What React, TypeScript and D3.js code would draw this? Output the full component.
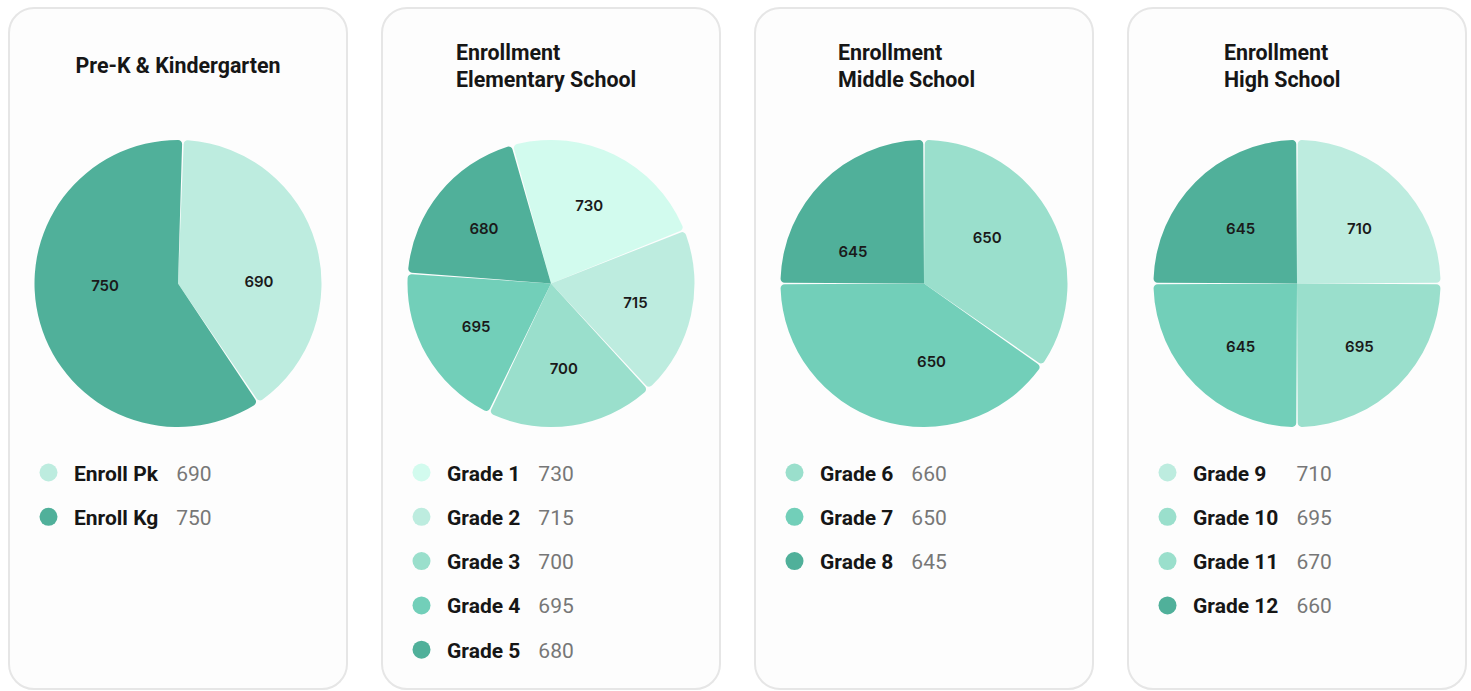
import React, { useEffect, useRef } from "react";
import * as d3 from "d3";

// ---------- data ----------
const preKTitle = ["Pre-K & Kindergarten"];
const preKNames = ["Enroll Pk", "Enroll Kg"];
const preKValues = [690, 750];
const preKPieLabels = [690, 750];
const preKShares = [40, 60];

const elemTitle = ["Enrollment", "Elementary School"];
const elemNames = ["Grade 1", "Grade 2", "Grade 3", "Grade 4", "Grade 5"];
const elemValues = [730, 715, 700, 695, 680];
const elemPieLabels = [730, 715, 700, 695, 680];
const elemShares = [23.3, 19.2, 19.0, 19.0, 19.5];

const midTitle = ["Enrollment", "Middle School"];
const midNames = ["Grade 6", "Grade 7", "Grade 8"];
const midValues = [660, 650, 645];
const midPieLabels = [650, 650, 645];
const midShares = [34.7, 40.3, 25];

const highTitle = ["Enrollment", "High School"];
const highNames = ["Grade 9", "Grade 10", "Grade 11", "Grade 12"];
const highValues = [710, 695, 670, 660];
const highPieLabels = [710, 695, 645, 645];
const highShares = [25, 25, 25, 25];

// ---------- styles ----------
const C = {
  lightest: "#d2fbee",
  light: "#bdecdf",
  mid: "#9adfcc",
  medium: "#72cfb9",
  dark: "#50b09a",
};

type Chart = {
  title: string[];
  names: string[];
  values: number[];
  pieLabels: number[];
  shares: number[];
  sliceColors: string[];
  legendColors: string[];
  startDeg: number;
  titleX: number | null;
  labelFrom: "values" | "slices";
  labelStartDeg: number;
  labelR: number;
  labelDx: number;
  labelDy: number;
};

const charts: Chart[] = [
  {
    title: preKTitle, names: preKNames, values: preKValues, pieLabels: preKPieLabels, shares: preKShares,
    sliceColors: [C.light, C.dark], legendColors: [C.light, C.dark],
    startDeg: 2, titleX: null, labelFrom: "values", labelStartDeg: 2, labelR: 77, labelDx: 4, labelDy: 0,
  },
  {
    title: elemTitle, names: elemNames, values: elemValues, pieLabels: elemPieLabels, shares: elemShares,
    sliceColors: [C.lightest, C.light, C.mid, C.medium, C.dark],
    legendColors: [C.lightest, C.light, C.mid, C.medium, C.dark],
    startDeg: -15.7, titleX: 74, labelFrom: "slices", labelStartDeg: 0, labelR: 86.5, labelDx: 0, labelDy: 0,
  },
  {
    title: midTitle, names: midNames, values: midValues, pieLabels: midPieLabels, shares: midShares,
    sliceColors: [C.mid, C.medium, C.dark], legendColors: [C.mid, C.medium, C.dark],
    startDeg: 0, titleX: 83, labelFrom: "values", labelStartDeg: -6, labelR: 78, labelDx: 0, labelDy: 0,
  },
  {
    title: highTitle, names: highNames, values: highValues, pieLabels: highPieLabels, shares: highShares,
    sliceColors: [C.light, C.mid, C.medium, C.dark], legendColors: [C.light, C.mid, C.mid, C.dark],
    startDeg: 0, titleX: 96, labelFrom: "slices", labelStartDeg: 0, labelR: 84, labelDx: 3, labelDy: 4,
  },
];

export default function App() {
  const ref = useRef<SVGSVGElement>(null);

  useEffect(() => {
    const svg = d3.select(ref.current);
    svg.selectAll("*").remove();
    const rad = (d: number) => (d * Math.PI) / 180;

    charts.forEach((c, i) => {
      const x0 = 9 + i * 373;
      const g = svg.append("g").attr("transform", `translate(${x0},0)`);
      g.append("rect")
        .attr("x", 0).attr("y", 8).attr("width", 338).attr("height", 681).attr("rx", 25)
        .attr("fill", "#fdfdfd").attr("stroke", "#e6e6e6").attr("stroke-width", 2);

      // title
      const tt = g.append("text")
        .attr("font-family", "Roboto, sans-serif").attr("font-weight", 700)
        .attr("font-size", 21.4).attr("fill", "#161616");
      if (c.titleX === null) {
        tt.attr("x", 169).attr("y", 73).attr("text-anchor", "middle").text(c.title[0]);
      } else {
        c.title.forEach((line, k) => {
          tt.append("tspan").attr("x", c.titleX as number).attr("y", 60 + k * 26.5).text(line);
        });
      }

      // pie
      const cx = 169, cy = 283.5, r = 143.5;
      const s0 = rad(c.startDeg);
      const pie = d3.pie<number>().sort(null).value((d) => d).startAngle(s0).endAngle(s0 + 2 * Math.PI);
      const arcs = pie(c.shares);
      const arc = d3.arc<d3.PieArcDatum<number>>()
        .innerRadius(0).outerRadius(r).cornerRadius(4).padAngle(0.011);
      const pg = g.append("g").attr("transform", `translate(${cx},${cy})`);
      pg.selectAll("path").data(arcs).join("path")
        .attr("d", arc as any)
        .attr("fill", (_d, k) => c.sliceColors[k]);

      // labels
      let mids: number[];
      if (c.labelFrom === "slices") {
        mids = arcs.map((a) => (a.startAngle + a.endAngle) / 2);
      } else {
        const l0 = rad(c.labelStartDeg);
        const lp = d3.pie<number>().sort(null).value((d) => d).startAngle(l0).endAngle(l0 + 2 * Math.PI);
        mids = lp(c.pieLabels).map((a) => (a.startAngle + a.endAngle) / 2);
      }
      pg.selectAll("text.lbl").data(c.pieLabels).join("text")
        .attr("class", "lbl")
        .attr("x", (_d, k) => c.labelDx + c.labelR * Math.sin(mids[k]))
        .attr("y", (_d, k) => c.labelDy - c.labelR * Math.cos(mids[k]))
        .attr("dy", "0.36em")
        .attr("text-anchor", "middle")
        .attr("font-family", "Inter, sans-serif").attr("font-weight", 600)
        .attr("font-size", 15).attr("fill", "#1a1a1a")
        .text((d) => String(d));

      // legend
      const lg = g.append("g");
      const rowY = (k: number) => 472.5 + k * 44.3;
      lg.selectAll("circle").data(c.names).join("circle")
        .attr("cx", 39.5).attr("cy", (_d, k) => rowY(k)).attr("r", 9)
        .attr("fill", (_d, k) => c.legendColors[k]);
      const names = lg.selectAll("text.nm").data(c.names).join("text")
        .attr("class", "nm")
        .attr("x", 65).attr("y", (_d, k) => rowY(k) + 8)
        .attr("font-family", "Roboto, sans-serif").attr("font-weight", 700)
        .attr("font-size", 21).attr("fill", "#161616")
        .text((d) => d);
      let maxW = 0;
      names.each(function () {
        const w = (this as SVGTextElement).getComputedTextLength();
        if (w > maxW) maxW = w;
      });
      lg.selectAll("text.val").data(c.values).join("text")
        .attr("class", "val")
        .attr("x", 65 + maxW + 18).attr("y", (_d, k) => rowY(k) + 8)
        .attr("font-family", "Roboto, sans-serif").attr("font-weight", 400)
        .attr("font-size", 21).attr("fill", "#777777")
        .text((d) => String(d));
    });
  }, []);

  return (
    <div style={{ position: "absolute", left: 0, top: 0, background: "#ffffff" }}>
      <svg ref={ref} width={1471} height={691} style={{ display: "block" }} />
    </div>
  );
}
